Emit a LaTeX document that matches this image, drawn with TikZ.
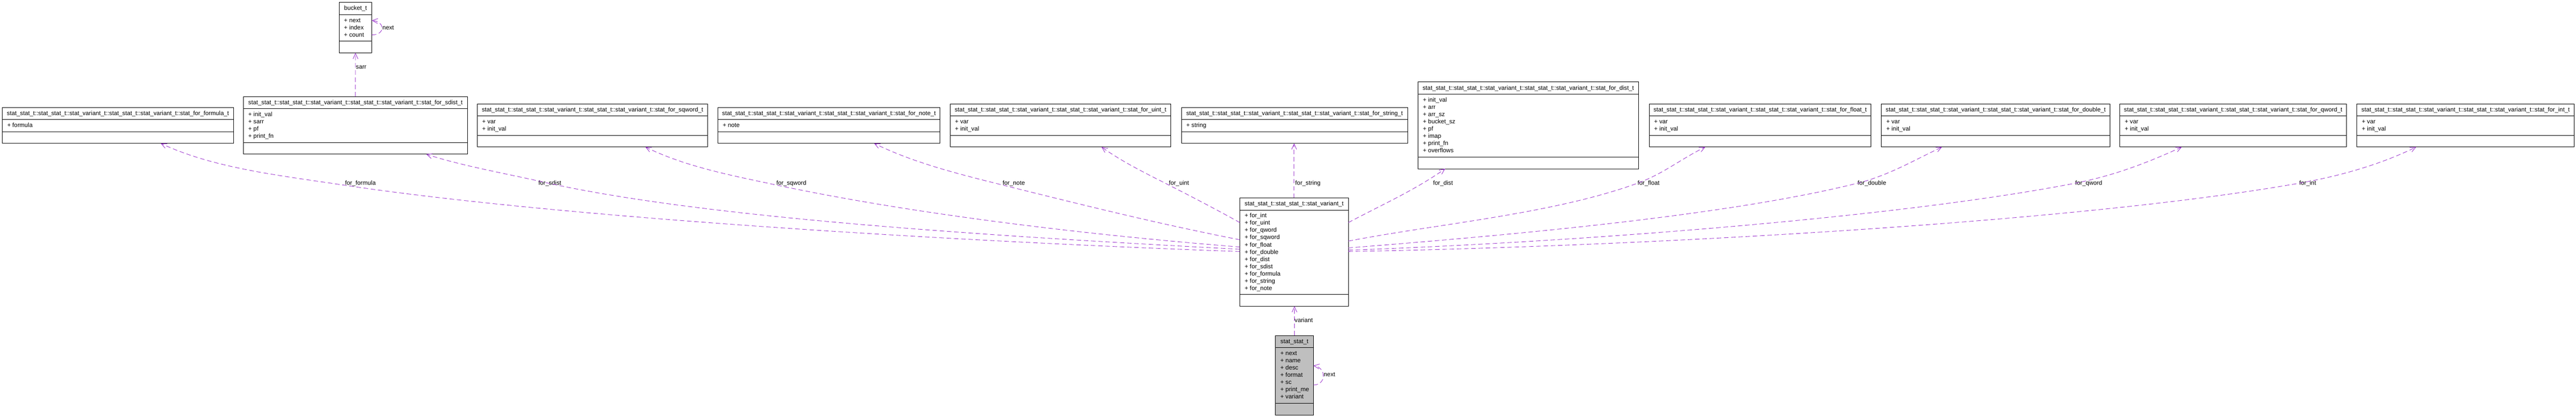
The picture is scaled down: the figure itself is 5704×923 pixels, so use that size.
\documentclass[tikz,border=0pt]{standalone}
\usepackage{fontspec}
\setmainfont{Liberation Sans}
\usetikzlibrary{arrows.meta,calc}

\definecolor{relcol}{HTML}{9A32CD}
\definecolor{mainfill}{HTML}{BFBFBF}

\tikzstyle{cls}=[draw, line width=1pt, rectangle, inner sep=0pt, outer sep=0pt, fill=white]
\tikzstyle{clstext}=[inner sep=0pt, font=\fontsize{13.4}{16}\selectfont]
\tikzstyle{rel}=[relcol, line width=1pt, dash pattern=on 10pt off 6pt, -{Straight Barb[length=12pt,width=11pt]}]
\tikzstyle{rellabel}=[clstext, anchor=west]

\newcommand{\forprefix}{stat\_stat\_t::stat\_stat\_t::stat\_variant\_t::stat\_stat\_t::stat\_variant\_t::stat\_for\_}

% #2 name, #3 left, #4 top, #5 width, #6 number of attributes, #7 title, #8 attributes
\newcommand{\umlclass}[8][]{%
  \pgfmathsetmacro{\clsheight}{27+16*#6+10.7+26}
  \node[cls, #1, minimum width=#5, minimum height=\clsheight, anchor=north west] (#2) at (#3,-#4) {};
  \node[clstext, anchor=base] (#2-title) at ($(#2.north)+(0,-17.5)$) {#7};
  \draw[line width=1pt] ($(#2.north west)+(0,-27)$) -- ($(#2.north east)+(0,-27)$);
  \draw[line width=1pt] ($(#2.south west)+(0,26)$) -- ($(#2.south east)+(0,26)$);
  \foreach \attr [count=\k] in {#8}
    \node[clstext, anchor=base west] (#2-attr\k) at ($(#2.north west)+(10.5,-28-16*\k)$) {+ \attr};
}

\begin{document}
\begin{tikzpicture}[x=1pt, y=1pt]
    \fill[white] (0,0) rectangle (5704,-923);
    \useasboundingbox (0,0) rectangle (5704,-923);

    \umlclass{bucket}{751}{5.3}{72.3}{3}{bucket\_t}{next, index, count}
    \umlclass{formula}{5.4}{237.3}{511.4}{1}{\forprefix formula\_t}{formula}
    \umlclass{sdist}{539}{213.3}{496}{4}{\forprefix sdist\_t}{init\_val, sarr, pf, print\_fn}
    \umlclass{sqword}{1057}{229.3}{510}{2}{\forprefix sqword\_t}{var, init\_val}
    \umlclass{note}{1589.6}{237.3}{491.8}{1}{\forprefix note\_t}{note}
    \umlclass{uint}{2104}{229.3}{488.5}{2}{\forprefix uint\_t}{var, init\_val}
    \umlclass{string}{2616}{237.3}{501}{1}{\forprefix string\_t}{string}
    \umlclass{dist}{3140}{181.3}{488}{8}{\forprefix dist\_t}{init\_val, arr, arr\_sz, bucket\_sz, pf, imap, print\_fn, overflows}
    \umlclass{float}{3652}{229.3}{491}{2}{\forprefix float\_t}{var, init\_val}
    \umlclass{double}{4166}{229.3}{506}{2}{\forprefix double\_t}{var, init\_val}
    \umlclass{qword}{4694}{229.3}{501.5}{2}{\forprefix qword\_t}{var, init\_val}
    \umlclass{int}{5219}{229.3}{481}{2}{\forprefix int\_t}{var, init\_val}
    \umlclass{variant}{2745.3}{437.3}{240.4}{11}{stat\_stat\_t::stat\_stat\_t::stat\_variant\_t}{for\_int, for\_uint, for\_qword, for\_sqword, for\_float, for\_double, for\_dist, for\_sdist, for\_formula, for\_string, for\_note}
    \umlclass[fill=mainfill]{mainstat}{2824.3}{741.7}{84}{7}{stat\_stat\_t}{next, name, desc, format, sc, print\_me, variant}

    % self references
    \draw[rel] ($(bucket.east)+(0,-16)$) .. controls +(30,0) and +(30,-3) .. ($(bucket.east)+(0,16)$);
    \node[rellabel] (lbl-bucketnext) at ($(bucket.east)+(23.5,0)$) {next};
    \draw[rel] ($(mainstat.east)+(0,-21.5)$) .. controls +(29,0) and +(29,-4) .. ($(mainstat.east)+(0,21.2)$);
    \node[rellabel] (lbl-mainnext) at ($(mainstat.east)+(22.7,1.5)$) {next};

    \draw[rel] (sdist.north) -- (bucket.south);
    \node[rellabel] (lbl-sarr) at (788,-149) {sarr};
    \draw[rel] (mainstat.north) -- (mainstat.north |- variant.south);
    \node[rellabel] (lbl-variant) at (2866.5,-708) {variant};

    % members of the variant
    \node[rellabel] (lbl-formula) at (764,-405) {for\_formula};
    \node[rellabel] (lbl-sdist) at (1192,-405) {for\_sdist};
    \node[rellabel] (lbl-sqword) at (1719,-405) {for\_sqword};
    \node[rellabel] (lbl-note) at (2220,-405) {for\_note};
    \node[rellabel] (lbl-uint) at (2588,-405) {for\_uint};
    \node[rellabel] (lbl-string) at (2868,-405) {for\_string};
    \node[rellabel] (lbl-dist) at (3173,-405) {for\_dist};
    \node[rellabel] (lbl-float) at (3626,-405) {for\_float};
    \node[rellabel] (lbl-double) at (4113,-405) {for\_double};
    \node[rellabel] (lbl-qword) at (4595,-405) {for\_qword};
    \node[rellabel] (lbl-int) at (5091,-405) {for\_int};

    \draw[rel] ($(variant.west)+(0,1.15)$) .. controls +(-599.6,20.9) and +(494.5,-73.9) .. ($(lbl-formula.west)+(0,-4.6)$) .. controls +(-148.4,22.2) and +(117.8,-54.9) .. ($(formula.south west)+(350.6,0)$);
    \draw[rel] ($(variant.west)+(0,6.15)$) .. controls +(-599.2,31.4) and +(341,-78.7) .. ($(lbl-sdist.west)+(0,5)$) .. controls +(-87.9,19.5) and +(76.1,-24.7) .. ($(sdist.south west)+(405,0)$);
    \draw[rel] ($(variant.west)+(0,11.15)$) .. controls +(-348.9,27.5) and +(293.4,-62.4) .. ($(lbl-sqword.west)+(0,-4)$) .. controls +(-97.8,20.8) and +(89.9,-43.8) .. ($(sqword.south west)+(372,0)$);
    \draw[rel] ($(variant.west)+(0,27.15)$) .. controls +(-176.7,34.3) and +(174.7,-43.5) .. ($(lbl-note.west)+(0,-4)$) .. controls +(-97,24.2) and +(89.9,-43.8) .. ($(note.south west)+(346,0)$);
    \draw[rel] ($(variant.west)+(0,65.15)$) .. controls +(-52.5,29.1) and +(53.5,-27.2) .. ($(lbl-uint.west)+(0,-4)$) .. controls +(-53.5,27.2) and +(49.1,-34.4) .. ($(uint.south west)+(335,0)$);
    \draw[rel] (variant.north) -- (variant.north |- string.south);
    \draw[rel] ($(variant.east)+(0,65.15)$) .. controls +(75,39.9) and +(-69.6,-48.8) .. ($(dist.south west)+(60,0)$);
    \draw[rel] ($(variant.east)+(0,24.15)$) .. controls +(196.3,38.2) and +(-187.9,-68.4) .. (lbl-float.west) .. controls +(56.4,20.5) and +(-53.9,-26.3) .. ($(float.south west)+(124,0)$);
    \draw[rel] ($(variant.east)+(0,9.15)$) .. controls +(348.9,27.5) and +(-291.1,-72.6) .. (lbl-double.west) .. controls +(67.9,16.9) and +(-63.2,-30.1) .. ($(double.south west)+(134,0)$);
    \draw[rel] ($(variant.east)+(0,4.15)$) .. controls +(499.7,17.5) and +(-392.6,-76.3) .. (lbl-qword.west) .. controls +(83.4,16.2) and +(-77.2,-35.5) .. ($(qword.south west)+(137,0)$);
    \draw[rel] ($(variant.east)+(0,1.15)$) .. controls +(649.9,11.3) and +(-492.4,-86.8) .. (lbl-int.west) .. controls +(88.6,15.6) and +(-80.9,-39.5) .. ($(int.south west)+(131,0)$);
\end{tikzpicture}
\end{document}
